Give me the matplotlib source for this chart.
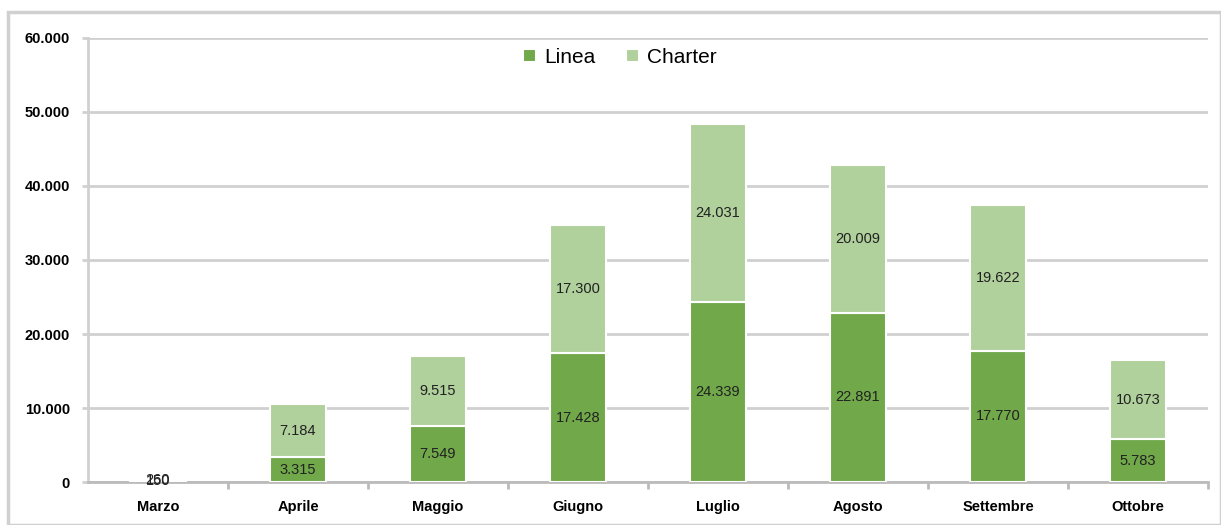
import matplotlib
matplotlib.use("Agg")
import matplotlib.pyplot as plt
from matplotlib.patches import Rectangle
from matplotlib.ticker import FuncFormatter

months = ["Marzo", "Aprile", "Maggio", "Giugno", "Luglio", "Agosto", "Settembre", "Ottobre"]
linea = [150, 3315, 7549, 17428, 24339, 22891, 17770, 5783]
charter = [260, 7184, 9515, 17300, 24031, 20009, 19622, 10673]
yticks = [0, 10000, 20000, 30000, 40000, 50000, 60000]

c_linea = "#70A84A"
c_charter = "#B0D09C"
grid_c = "#D0D0D0"

plt.rcParams['font.family'] = ['Liberation Sans', 'DejaVu Sans']

fig = plt.figure(figsize=(12.21, 5.25), dpi=100)
ax = fig.add_axes([88/1221, 1-482/525, 1120/1221, 444/525])

x = list(range(len(months)))
w = 0.4
ax.bar(x, linea, width=w, color=c_linea, edgecolor="white", linewidth=1.5, label="Linea", zorder=3)
ax.bar(x, charter, width=w, bottom=linea, color=c_charter, edgecolor="white", linewidth=1.5, label="Charter", zorder=3)

def fmt(v):
    return f"{v:,}".replace(",", ".")

for i in x:
    ax.text(i, linea[i]/2, fmt(linea[i]), ha="center", va="center", fontsize=10.5, color="#222222", zorder=4)
    ax.text(i, linea[i] + charter[i]/2, fmt(charter[i]), ha="center", va="center", fontsize=10.5, color="#222222", zorder=4)

ax.set_ylim(0, 60000)
ax.set_xlim(-0.5, len(months)-0.5)
ax.set_yticks(yticks)
ax.yaxis.set_major_formatter(FuncFormatter(lambda v, p: fmt(int(v))))
ax.grid(axis="y", color=grid_c, linewidth=2, zorder=0)
ax.set_axisbelow(True)
for s in ["top", "right"]:
    ax.spines[s].set_visible(False)
ax.spines["left"].set_color(grid_c)
ax.spines["left"].set_linewidth(2)
ax.spines["bottom"].set_color("#BBBBBB")
ax.spines["bottom"].set_linewidth(2)
ax.tick_params(axis="y", length=4, width=2, color=grid_c, pad=9, labelsize=10.5)
ax.set_xticks(x)
ax.set_xticklabels(months, fontsize=10.5, fontweight="bold")
ax.set_xticks([i + 0.5 for i in x], minor=True)
ax.tick_params(axis="x", which="major", length=0, pad=13)
ax.tick_params(axis="x", which="minor", length=5, width=2, color="#BBBBBB")
for lbl in ax.get_yticklabels():
    lbl.set_fontweight("bold")

ax.legend(loc="upper center", bbox_to_anchor=(0.475, 1.02), ncol=2, frameon=False,
          fontsize=15, handlelength=0.6, handleheight=0.6, handletextpad=0.4, columnspacing=1.5)

fig.patches.append(Rectangle((8/1221, 0), 1213/1221, 1-12/525, transform=fig.transFigure,
                             fill=False, edgecolor=grid_c, linewidth=2.5))

fig.savefig("out.png", dpi=100)
